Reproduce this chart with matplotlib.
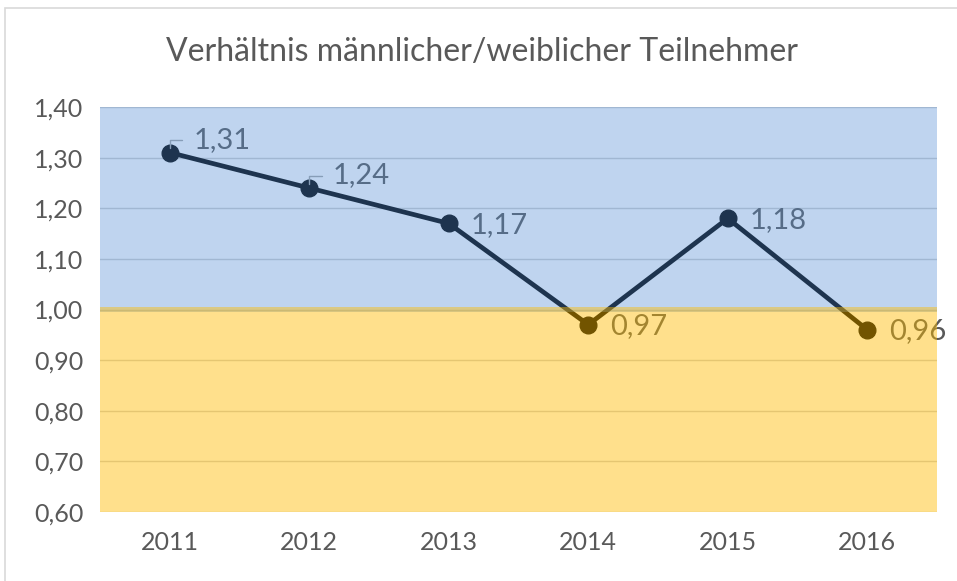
import matplotlib
matplotlib.use("Agg")
import matplotlib.pyplot as plt
from matplotlib.patches import Rectangle
from matplotlib.ticker import FixedLocator

years = ["2011", "2012", "2013", "2014", "2015", "2016"]
ratio = [1.31, 1.24, 1.17, 0.97, 1.18, 0.96]
label_texts = ["1,31", "1,24", "1,17", "0,97", "1,18", "0,96"]
yticks = [0.60, 0.70, 0.80, 0.90, 1.00, 1.10, 1.20, 1.30, 1.40]
ytick_labels = ["0,60", "0,70", "0,80", "0,90", "1,00", "1,10", "1,20", "1,30", "1,40"]
title = "Verhältnis männlicher/weiblicher Teilnehmer"

plt.rcParams['font.family'] = ['Lato', 'DejaVu Sans']

W, H = 957, 581
fig = plt.figure(figsize=(W / 100, H / 100), dpi=100)
fig.patch.set_facecolor("white")

# chart border (top & left visible)
fig.patches.append(Rectangle((5 / W, -0.1), 1.2, 1 - 8 / H + 0.1, transform=fig.transFigure,
                             fill=False, edgecolor="#D9D9D9", linewidth=1.2))

ax = fig.add_axes([100 / W, 1 - 512 / H, 837 / W, 405 / H])
ax.set_facecolor("white")
x = list(range(len(years)))
ax.set_xlim(-0.5, len(years) - 0.5)
ax.set_ylim(0.60, 1.40)

for yv in yticks:
    ax.axhline(yv, color="#D0D0D0", linewidth=1.0, zorder=1)

ax.plot(x, ratio, color="black", linewidth=3.4, marker="o", markersize=12, zorder=2,
        solid_capstyle="round")

text_color = "#595959"
fs = 21
for i, (xi, yi, t) in enumerate(zip(x, ratio, label_texts)):
    if i in (0, 1):
        ax.annotate(t, xy=(xi, yi), xytext=(17, 9), textcoords="offset points",
                    fontsize=fs, color=text_color, va="center", ha="left", zorder=2,
                    arrowprops=dict(arrowstyle="-", color="#A6A6A6", lw=1,
                                    shrinkA=6, shrinkB=3,
                                    connectionstyle="angle,angleA=0,angleB=90,rad=0"),
                    annotation_clip=False)
    else:
        ax.annotate(t, xy=(xi, yi), xytext=(16, -1), textcoords="offset points",
                    fontsize=fs, color=text_color, va="center", ha="left", zorder=2,
                    annotation_clip=False)

# translucent bands over everything
ax.axhspan(0.996, 1.40, color=(83 / 255, 142 / 255, 214 / 255), alpha=0.373, zorder=3, lw=0)
ax.axhspan(0.60, 1.004, color=(1.0, 188 / 255, 0.0), alpha=0.45, zorder=3, lw=0)

for s in ax.spines.values():
    s.set_visible(False)
ax.yaxis.set_major_locator(FixedLocator(yticks))
ax.set_yticklabels(ytick_labels)
ax.set_xticks(x)
ax.set_xticklabels(years)
ax.tick_params(axis="both", length=0, labelsize=18, labelcolor="#595959")
ax.tick_params(axis="y", pad=12)
ax.tick_params(axis="x", pad=14)

fig.text(482 / W, 1 - 52 / H, title, ha="center", va="center", fontsize=23, color="#595959")

fig.savefig("out.png", dpi=100)
